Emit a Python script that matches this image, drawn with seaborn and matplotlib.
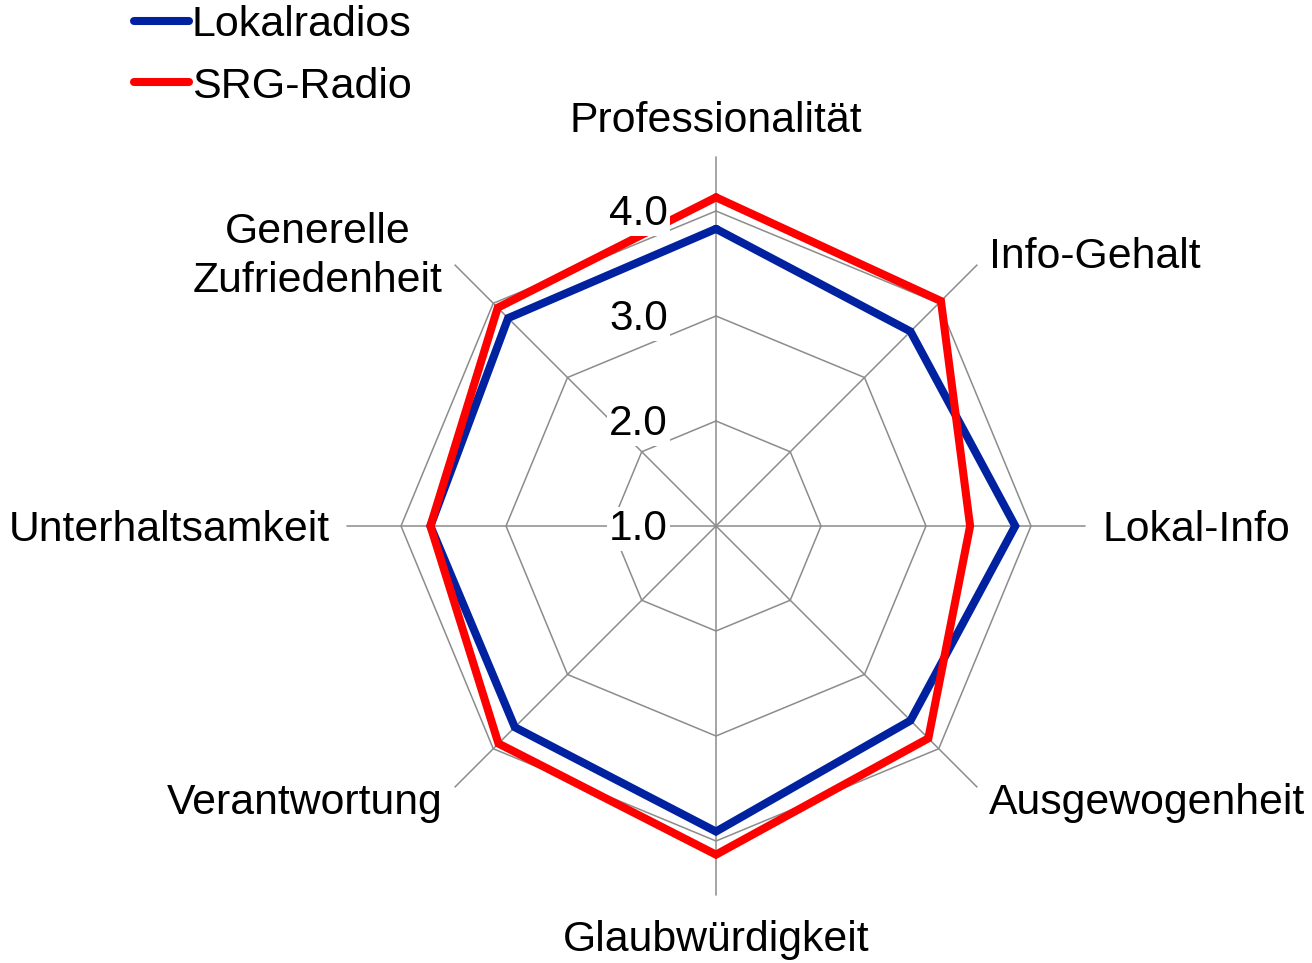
import numpy as np
import pandas as pd
import matplotlib
matplotlib.use("Agg")
import matplotlib.pyplot as plt
import seaborn as sns

### data ###
categories = ['Professionalität', 'Info-Gehalt', 'Lokal-Info', 'Ausgewogenheit',
              'Glaubwürdigkeit', 'Verantwortung', 'Unterhaltsamkeit',
              'Generelle\nZufriedenheit']
lokalradios = [3.83, 3.62, 3.85, 3.62, 3.91, 3.71, 3.72, 3.80]
srg_radio = [4.13, 4.03, 3.42, 3.86, 4.13, 3.93, 3.72, 3.94]
series_names = ['Lokalradios', 'SRG-Radio']
ring_values = [2.0, 3.0, 4.0]
tick_values = [1.0, 2.0, 3.0, 4.0]
tick_labels = ['1.0', '2.0', '3.0', '4.0']

colors = {'Lokalradios': '#0022A0', 'SRG-Radio': '#FF0000'}
grid_color = '#8C8C8C'

sns.set_style('white')
plt.rcParams['font.family'] = ['Liberation Sans', 'DejaVu Sans']
plt.rcParams['text.color'] = 'black'

n = len(categories)
theta = np.linspace(0, 2 * np.pi, n, endpoint=False)
theta_closed = np.append(theta, 2 * np.pi)

rmax = 4.52
fig = plt.figure(figsize=(13.12, 9.63), dpi=100)
# centre at (716, 526) px, 105 px per unit
rad_px = (rmax - 1) * 105
ax = fig.add_axes([(716 - rad_px) / 1312, (963 - 526 - rad_px) / 963,
                   2 * rad_px / 1312, 2 * rad_px / 963], projection='polar')
ax.set_theta_zero_location('N')
ax.set_theta_direction(-1)
ax.set_ylim(1, rmax)
ax.grid(False)
ax.spines['polar'].set_visible(False)
ax.set_xticks([])
ax.set_yticks([])

# octagon rings + spokes
for rv in ring_values:
    ax.plot(theta_closed, [rv] * (n + 1), color=grid_color, lw=1.1, zorder=1)
for t in theta:
    ax.plot([t, t], [1, rmax], color=grid_color, lw=1.1, zorder=1)

# data lines
df = pd.DataFrame({
    'theta': np.concatenate([theta_closed, theta_closed]),
    'value': lokalradios + [lokalradios[0]] + srg_radio + [srg_radio[0]],
    'series': ['Lokalradios'] * (n + 1) + ['SRG-Radio'] * (n + 1),
})
for name in series_names:
    sub = df[df['series'] == name]
    sns.lineplot(data=sub, x='theta', y='value', sort=False, estimator=None,
                 ax=ax, color=colors[name], lw=5.8, label=name, zorder=3,
                 solid_joinstyle='miter', solid_capstyle='round')
ax.set_xlabel('')
ax.set_ylabel('')

# radial tick labels
for v, lab in zip(tick_values, tick_labels):
    ax.annotate(lab, xy=(0, v), xytext=(-48, -3), textcoords='offset pixels',
                ha='right', va='center', fontsize=30.5, zorder=5, color='black',
                annotation_clip=False,
                bbox=dict(boxstyle='square,pad=0.05', fc='white', ec='none'))

# category labels
for t, cat in zip(theta, categories):
    s = np.sin(t)
    if abs(s) < 0.01:
        ha, r = 'center', 4.9
    else:
        ha, r = ('left' if s > 0 else 'right'), 4.68
    ax.annotate(cat, xy=(t, r), xytext=(0, -4), textcoords='offset pixels',
                ha=ha, va='center', fontsize=30.8, color='black',
                multialignment='center', linespacing=1.3,
                annotation_clip=False)

# legend
handles, labels = ax.get_legend_handles_labels()
leg = ax.legend(handles, labels, loc='upper left',
                bbox_to_anchor=(134 / 1312, 1 - 5 / 963),
                bbox_transform=fig.transFigure, frameon=False, fontsize=31,
                handlelength=1.27, handletextpad=0.07, labelspacing=0.5,
                borderaxespad=0.0, borderpad=0.0)
for txt in leg.get_texts():
    txt.set_color('black')

fig.savefig('out.png', dpi=100)
